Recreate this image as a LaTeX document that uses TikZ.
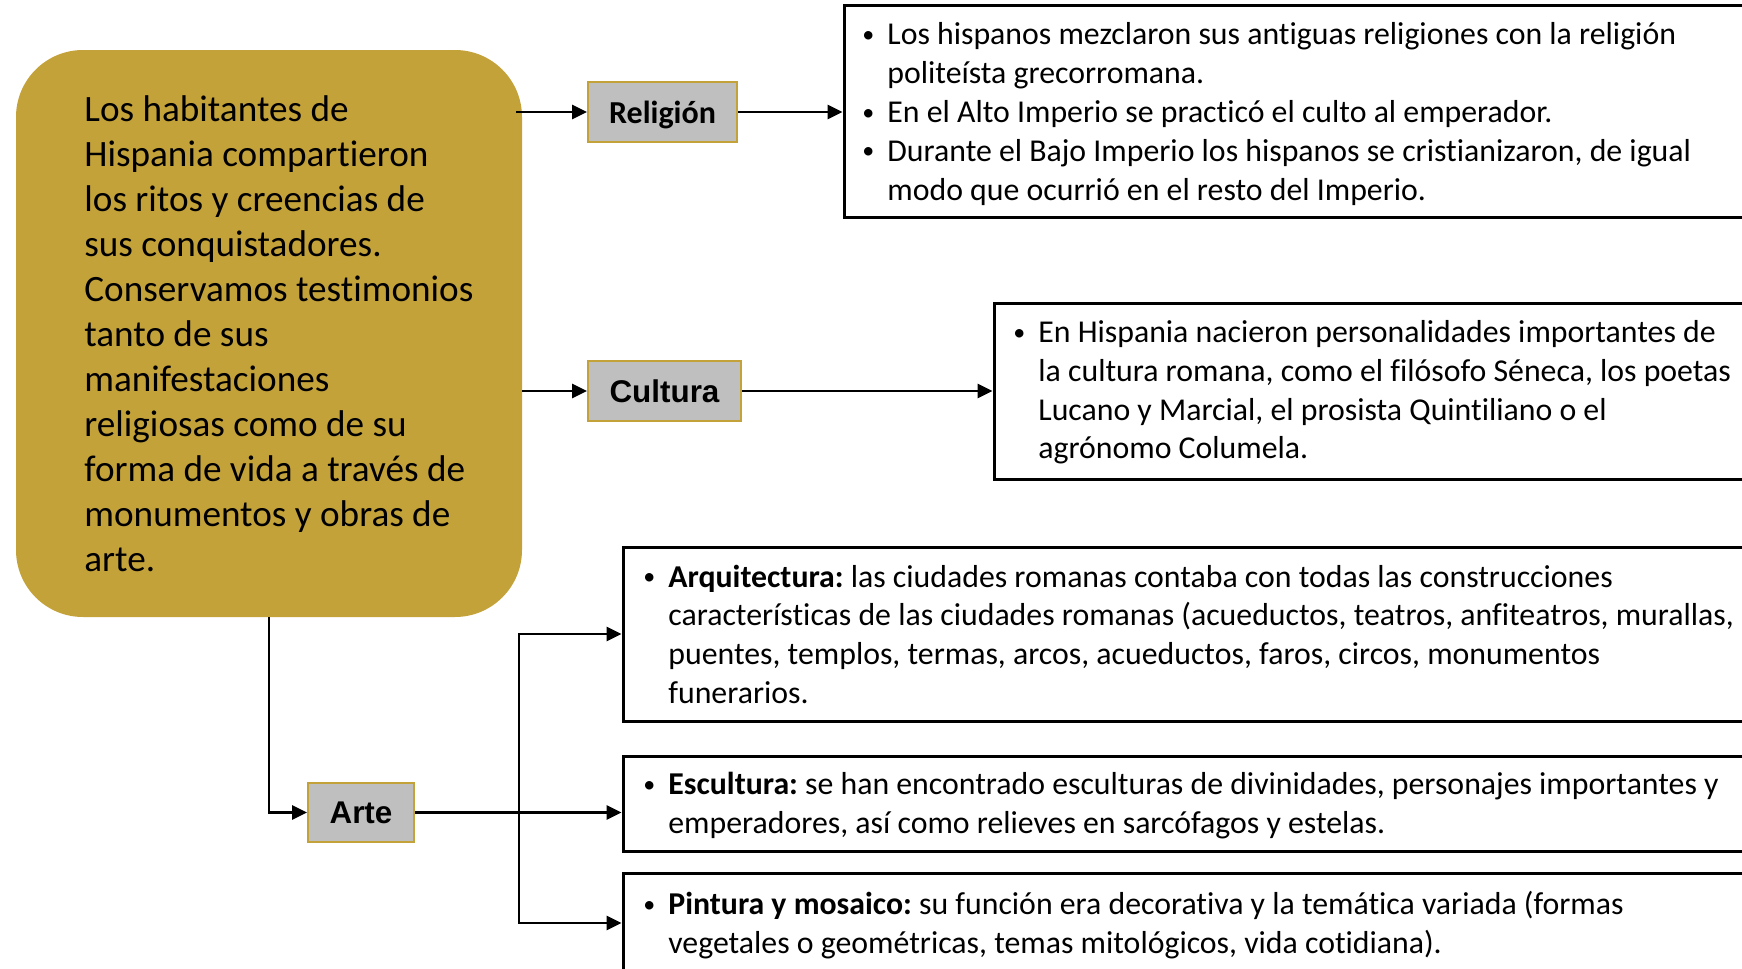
\documentclass[tikz,border=0pt]{standalone}
\usepackage{fontspec}
\setmainfont{Carlito}[Ligatures=NoCommon]
\newfontfamily\lsans{Liberation Sans}
\usetikzlibrary{arrows.meta,calc}
\definecolor{gold}{RGB}{196,162,58}
\definecolor{lblgray}{RGB}{191,191,191}
\frenchspacing
\newcommand\mybul{\makebox[12.5pt][l]{\raisebox{1.2pt}{\fontsize{12}{12}\selectfont\textbullet}}}
\begin{document}
\begin{tikzpicture}[x=0.5pt,y=-0.5pt,
  arr/.style={line width=1.4pt,-{Triangle[length=7.5pt,width=7pt]}},
  lbl/.style={draw=gold,line width=1pt,fill=lblgray,inner sep=0},
  infobox/.style={draw=black,line width=1.5pt,inner sep=0},
  infotext/.style={anchor=north west,inner sep=0,font=\fontsize{15.9}{19.4}\selectfont\frenchspacing}]
\clip (0,0) rectangle (1742,969);
% main box
\node[fill=gold,rounded corners=33.5pt,minimum width=253pt,minimum height=283.5pt,inner sep=0] (main) at (269,333.5) {};
\node[anchor=west,inner sep=0,align=left,font=\fontsize{18.6}{22.5}\selectfont] (maintext) at (84,334) {Los habitantes de\\Hispania compartieron\\los ritos y creencias de\\sus conquistadores.\\Conservamos testimonios\\tanto de sus\\manifestaciones\\religiosas como de su\\forma de vida a través de\\monumentos y obras de\\arte.};
% labels
\node[lbl,minimum width=74.5pt,minimum height=30pt,text height=12pt,text depth=0.5pt,font=\fontsize{16}{19}\selectfont\bfseries] (rel) at (662.5,112) {Religión};
\node[lbl,minimum width=76.5pt,minimum height=30pt,font=\lsans\bfseries\fontsize{15.7}{19}\selectfont] (cul) at (664.5,391) {Cultura};
\node[lbl,minimum width=53pt,minimum height=29.5pt,font=\lsans\bfseries\fontsize{15.7}{19}\selectfont] (arte) at (361,812.5) {Arte};
% info boxes
\node[infobox,minimum width=458pt,minimum height=106pt] (b1) at (1302,111) {};
\node[infobox,minimum width=383pt,minimum height=88pt] (b2) at (1377,391) {};
\node[infobox,minimum width=568.5pt,minimum height=87pt] (b3) at (1191.5,634) {};
\node[infobox,minimum width=568.5pt,minimum height=47.5pt] (b4) at (1191.5,803.5) {};
\node[infobox,minimum width=568.5pt,minimum height=50pt] (b5) at (1191.5,923) {};
% texts
\node[infotext] (t1) at (862,17.3) {\begin{tabular}{@{}l@{}l@{}}
\mybul & Los hispanos mezclaron sus antiguas religiones con la religión\\
 & politeísta grecorromana.\\
\mybul & En el Alto Imperio se practicó el culto al emperador.\\
\mybul & Durante el Bajo Imperio los hispanos se cristianizaron, de igual\\
 & modo que ocurrió en el resto del Imperio.
\end{tabular}};
\node[infotext] (t2) at (1013,315) {\begin{tabular}{@{}l@{}l@{}}
\mybul & En Hispania nacieron personalidades importantes de\\
 & la cultura romana, como el filósofo Séneca, los poetas\\
 & Lucano y Marcial, el prosista Quintiliano o el\\
 & agrónomo Columela.
\end{tabular}};
\node[infotext] (t3) at (643,559.5) {\begin{tabular}{@{}l@{}l@{}}
\mybul & \textbf{Arquitectura:} las ciudades romanas contaba con todas las construcciones\\
 & características de las ciudades romanas (acueductos, teatros, anfiteatros, murallas,\\
 & puentes, templos, termas, arcos, acueductos, faros, circos, monumentos\\
 & funerarios.
\end{tabular}};
\node[infotext] (t4) at (643,767.2) {\begin{tabular}{@{}l@{}l@{}}
\mybul & \textbf{Escultura:} se han encontrado esculturas de divinidades, personajes importantes y\\
 & emperadores, así como relieves en sarcófagos y estelas.
\end{tabular}};
\node[infotext] (t5) at (643,887.2) {\begin{tabular}{@{}l@{}l@{}}
\mybul & \textbf{Pintura y mosaico:} su función era decorativa y la temática variada (formas\\
 & vegetales o geométricas, temas mitológicos, vida cotidiana).
\end{tabular}};
% connectors
\draw[arr] ($(rel.west -| main.east)+(-6,0)$) -- (rel.west);
\draw[arr] (rel.east) -- (rel.east -| b1.west);
\draw[arr] (cul.west -| main.east) -- (cul.west);
\draw[arr] (cul.east) -- (cul.east -| b2.west);
\draw[arr] (main.south) |- (arte.west);
\coordinate (split) at (519,812.5);
\draw[arr] (arte.east) -- (arte.east -| b4.west);
\draw[arr] (split) |- (b3.west);
\draw[arr] (split) |- (b5.west);
\end{tikzpicture}
\end{document}
